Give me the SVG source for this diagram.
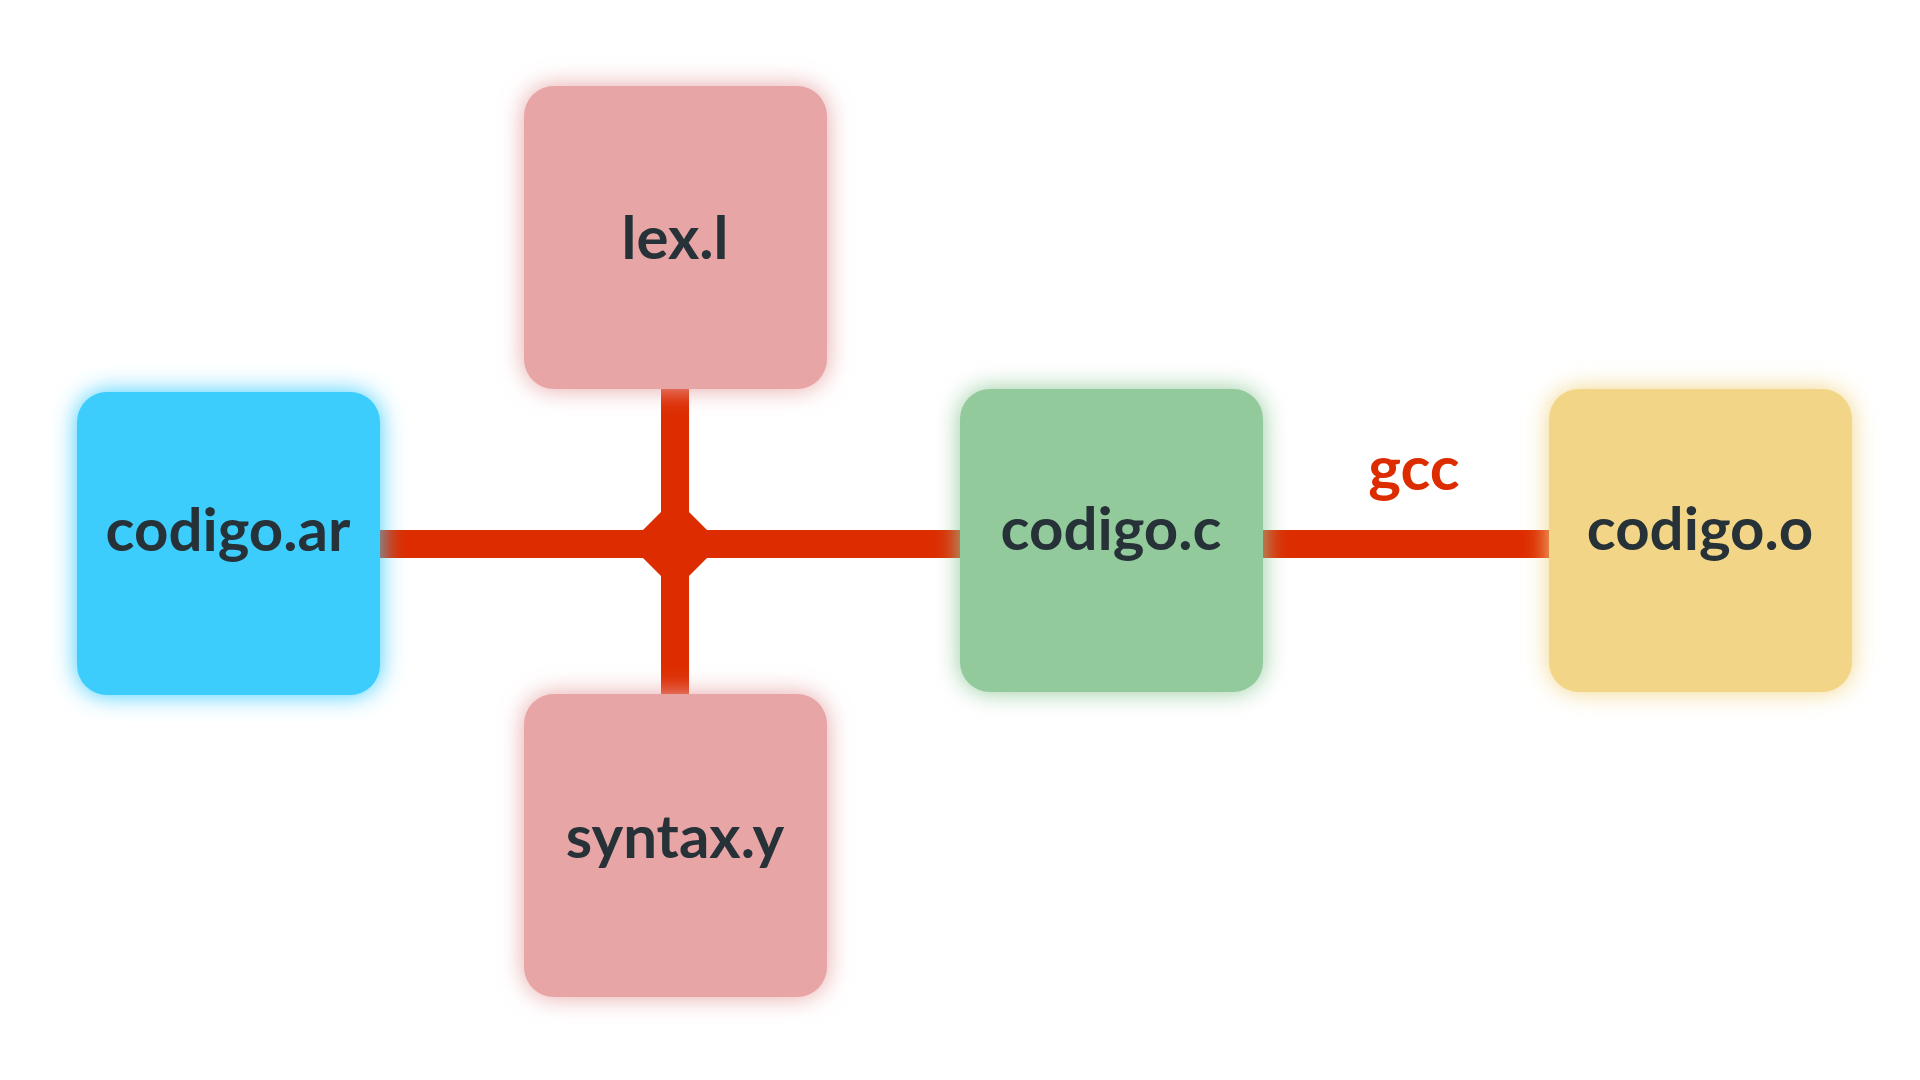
<svg xmlns="http://www.w3.org/2000/svg" width="1920" height="1080" viewBox="0 0 1920 1080">
  <defs>
    <filter id="glow" x="-30%" y="-30%" width="160%" height="160%">
      <feGaussianBlur in="SourceGraphic" stdDeviation="12" result="b"/>
      <feMerge>
        <feMergeNode in="b"/>
        <feMergeNode in="SourceGraphic"/>
      </feMerge>
    </filter>
    <style>
      .box { filter: url(#glow); }
      .lbl { font-family: Lato, "Liberation Sans", sans-serif; font-weight: 700; font-size: 60px; fill: #263238; text-anchor: middle; }
      .edge { stroke: #dd2c00; stroke-width: 28; fill: none; }
      .elbl { font-family: Lato, "Liberation Sans", sans-serif; font-weight: 700; font-size: 62px; fill: #dd2c00; text-anchor: middle; }
    </style>
  </defs>
  <rect width="1920" height="1080" fill="#ffffff"/>
  <g id="connectors">
    <line class="edge" x1="380" y1="544" x2="960" y2="544"/>
    <line class="edge" x1="675" y1="389" x2="675" y2="694"/>
    <polygon points="675,498 721,544 675,590 629,544" fill="#dd2c00"/>
    <line class="edge" x1="1263" y1="544" x2="1549" y2="544"/>
    <text class="elbl" x="1414" y="490">gcc</text>
  </g>
  <g id="node-codigo-ar">
    <rect class="box" x="77" y="392" width="303" height="303" rx="30" fill="#3ccdfc"/>
    <text class="lbl" x="228" y="551">codigo.ar</text>
  </g>
  <g id="node-lex-l">
    <rect class="box" x="524" y="86" width="303" height="303" rx="30" fill="#e7a5a6"/>
    <text class="lbl" x="675" y="259">lex.l</text>
  </g>
  <g id="node-syntax-y">
    <rect class="box" x="524" y="694" width="303" height="303" rx="30" fill="#e7a5a6"/>
    <text class="lbl" x="675" y="858">syntax.y</text>
  </g>
  <g id="node-codigo-c">
    <rect class="box" x="960" y="389" width="303" height="303" rx="30" fill="#93ca9c"/>
    <text class="lbl" x="1111" y="550">codigo.c</text>
  </g>
  <g id="node-codigo-o">
    <rect class="box" x="1549" y="389" width="303" height="303" rx="30" fill="#f2d587"/>
    <text class="lbl" x="1700" y="550">codigo.o</text>
  </g>
</svg>
